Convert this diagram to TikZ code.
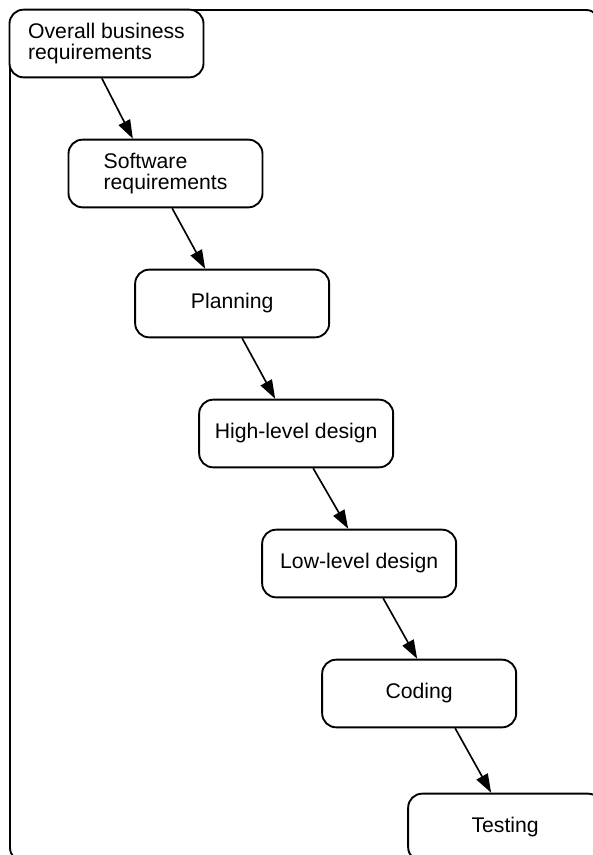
\documentclass[tikz,border=0pt]{standalone}
\usepackage{fontspec}
\setmainfont{Liberation Sans}
\usepackage{tikz}
\usetikzlibrary{shapes.geometric, arrows.meta}
\tikzstyle{stage} = [rectangle, rounded corners=0.42cm, minimum width=5.82cm, minimum height=2.03cm, inner sep=0pt, align=center, text centered, draw=black, line width=1.6pt, fill=white, font=\fontsize{18.1pt}{18pt}\selectfont]
\tikzstyle{stage2} = [stage, align=left]
\tikzstyle{arrow} = [line width=1.4pt,->,>={Triangle[length=0.56cm,width=0.38cm]}]
\begin{document}
\begin{tikzpicture}[node distance=3.9cm]
        \path[use as bounding box, clip] (0,0) rectangle (17.79,-25.65);
        \draw [line width=1.6pt, rounded corners=0.42cm] (0.3,-0.3) rectangle (18.0,-25.85);
        \node (overall) [stage2] at (3.195,-1.305) {Overall business\\requirements};
        \node (software) [stage2, below of=overall, xshift=1.77cm] {Software\\requirements};
        \node (planning) [stage, below of=software, xshift=2cm] {Planning};
        \node (hld) [stage, below of=planning, xshift=1.92cm] {High-level design};
        \node (lld) [stage, below of=hld, xshift=1.89cm] {Low-level design};
        \node (coding) [stage, below of=lld, xshift=1.8cm] {Coding};
        \node (testing) [stage, below of=coding, xshift=2.58cm, yshift=-0.12cm] {Testing};

        \draw [arrow] ([xshift=-0.14cm]overall.south) -- ([xshift=-0.98cm]software.north);
        \draw [arrow] ([xshift=0.2cm]software.south) -- ([xshift=-0.81cm]planning.north);
        \draw [arrow] ([xshift=0.3cm]planning.south) -- ([xshift=-0.63cm]hld.north);
        \draw [arrow] ([xshift=0.51cm]hld.south) -- ([xshift=-0.33cm]lld.north);
        \draw [arrow] ([xshift=0.72cm]lld.south) -- ([xshift=-0.06cm]coding.north);
        \draw [arrow] ([xshift=1.08cm]coding.south) -- ([xshift=-0.42cm]testing.north);
\end{tikzpicture}
\end{document}
